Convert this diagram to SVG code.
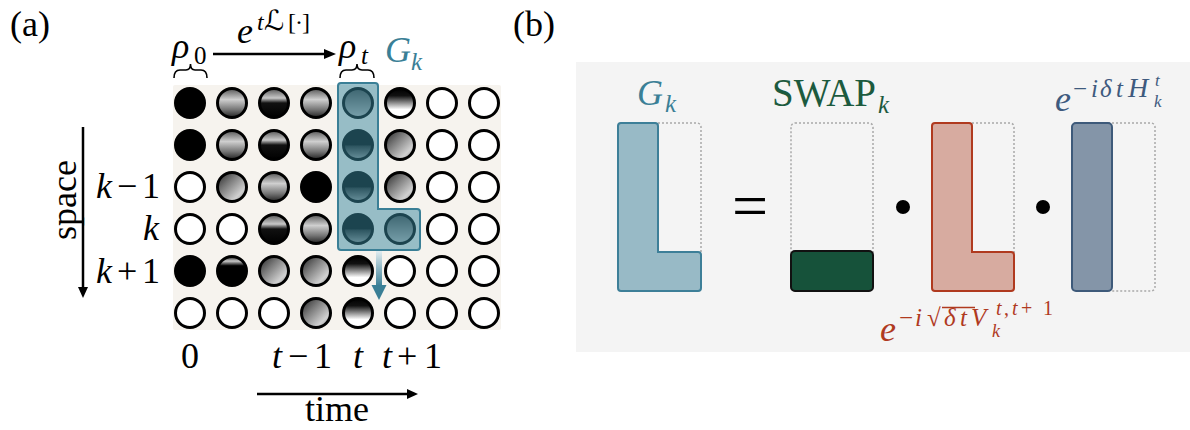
<svg xmlns="http://www.w3.org/2000/svg" width="1190" height="430" viewBox="0 0 1190 430">
<style>
.t{font-family:"Liberation Serif","DejaVu Serif",serif;fill:#000}
.i{font-style:italic}
.c{stroke:#000;stroke-width:3}
.dot{fill:none;stroke:#a8a8a8;stroke-width:1.5;stroke-dasharray:2 2}
.teal{fill:#3a7f96}
.green{fill:#1c5a3e}
.red{fill:#b03a1f}
.navy{fill:#3e5a7e}
</style>
<defs>
<linearGradient id="gA" x1="0" y1="0" x2="0" y2="1"><stop offset="0" stop-color="#555"/><stop offset="0.38" stop-color="#cfcfcf"/><stop offset="0.72" stop-color="#777"/><stop offset="1" stop-color="#222"/></linearGradient>
<linearGradient id="gB" x1="0" y1="0" x2="0" y2="1"><stop offset="0" stop-color="#555"/><stop offset="0.33" stop-color="#c8c8c8"/><stop offset="0.5" stop-color="#111"/><stop offset="1" stop-color="#000"/></linearGradient>
<linearGradient id="gK" x1="0" y1="0" x2="0" y2="1"><stop offset="0" stop-color="#222"/><stop offset="0.16" stop-color="#c8c8c8"/><stop offset="0.32" stop-color="#000"/><stop offset="1" stop-color="#000"/></linearGradient>
<linearGradient id="gD" x1="0" y1="0" x2="0" y2="1"><stop offset="0" stop-color="#000"/><stop offset="0.25" stop-color="#111"/><stop offset="0.72" stop-color="#fff"/><stop offset="1" stop-color="#fff"/></linearGradient>
<linearGradient id="gC" x1="0" y1="0" x2="1" y2="1"><stop offset="0" stop-color="#222"/><stop offset="0.35" stop-color="#777"/><stop offset="0.75" stop-color="#d0d0d0"/><stop offset="1" stop-color="#888"/></linearGradient>
<linearGradient id="gE" x1="0" y1="0" x2="0" y2="1"><stop offset="0" stop-color="#000"/><stop offset="0.5" stop-color="#000"/><stop offset="0.53" stop-color="#222"/><stop offset="1" stop-color="#9a9a9a"/></linearGradient>
<linearGradient id="gF" x1="0" y1="0" x2="0" y2="1"><stop offset="0" stop-color="#444"/><stop offset="1" stop-color="#b8b8b8"/></linearGradient>
<linearGradient id="gArr" x1="0" y1="0" x2="0" y2="1"><stop offset="0" stop-color="#e2edf1"/><stop offset="1" stop-color="#3a7f96"/></linearGradient>
</defs>

<!-- panel labels -->
<text class="t" x="10" y="36" font-size="36">(a)</text>
<text class="t" x="513" y="36" font-size="36">(b)</text>

<!-- panel a background -->
<rect x="173" y="85" width="328" height="245" rx="2" fill="#f6f3ee"/>

<g id="grid">
<circle class="c" cx="190" cy="103" r="14.5" fill="#000"/>
<circle class="c" cx="232" cy="103" r="14.5" fill="url(#gA)"/>
<circle class="c" cx="274" cy="103" r="14.5" fill="url(#gB)"/>
<circle class="c" cx="316" cy="103" r="14.5" fill="url(#gA)"/>
<circle class="c" cx="358" cy="103" r="14.5" fill="url(#gF)"/>
<circle class="c" cx="400" cy="103" r="14.5" fill="url(#gD)"/>
<circle class="c" cx="442" cy="103" r="14.5" fill="#fff"/>
<circle class="c" cx="484" cy="103" r="14.5" fill="#fff"/>
<circle class="c" cx="190" cy="145" r="14.5" fill="#000"/>
<circle class="c" cx="232" cy="145" r="14.5" fill="url(#gA)"/>
<circle class="c" cx="274" cy="145" r="14.5" fill="url(#gB)"/>
<circle class="c" cx="316" cy="145" r="14.5" fill="url(#gA)"/>
<circle class="c" cx="358" cy="145" r="14.5" fill="url(#gE)"/>
<circle class="c" cx="400" cy="145" r="14.5" fill="url(#gC)"/>
<circle class="c" cx="442" cy="145" r="14.5" fill="#fff"/>
<circle class="c" cx="484" cy="145" r="14.5" fill="#fff"/>
<circle class="c" cx="190" cy="187" r="14.5" fill="#fff"/>
<circle class="c" cx="232" cy="187" r="14.5" fill="url(#gC)"/>
<circle class="c" cx="274" cy="187" r="14.5" fill="url(#gA)"/>
<circle class="c" cx="316" cy="187" r="14.5" fill="#000"/>
<circle class="c" cx="358" cy="187" r="14.5" fill="url(#gE)"/>
<circle class="c" cx="400" cy="187" r="14.5" fill="url(#gC)"/>
<circle class="c" cx="442" cy="187" r="14.5" fill="#fff"/>
<circle class="c" cx="484" cy="187" r="14.5" fill="#fff"/>
<circle class="c" cx="190" cy="229" r="14.5" fill="#fff"/>
<circle class="c" cx="232" cy="229" r="14.5" fill="#fff"/>
<circle class="c" cx="274" cy="229" r="14.5" fill="url(#gB)"/>
<circle class="c" cx="316" cy="229" r="14.5" fill="url(#gA)"/>
<circle class="c" cx="358" cy="229" r="14.5" fill="url(#gE)"/>
<circle class="c" cx="400" cy="229" r="14.5" fill="url(#gF)"/>
<circle class="c" cx="442" cy="229" r="14.5" fill="#fff"/>
<circle class="c" cx="484" cy="229" r="14.5" fill="#fff"/>
<circle class="c" cx="190" cy="271" r="14.5" fill="#000"/>
<circle class="c" cx="232" cy="271" r="14.5" fill="url(#gK)"/>
<circle class="c" cx="274" cy="271" r="14.5" fill="url(#gC)"/>
<circle class="c" cx="316" cy="271" r="14.5" fill="url(#gC)"/>
<circle class="c" cx="358" cy="271" r="14.5" fill="url(#gD)"/>
<circle class="c" cx="400" cy="271" r="14.5" fill="#fff"/>
<circle class="c" cx="442" cy="271" r="14.5" fill="#fff"/>
<circle class="c" cx="484" cy="271" r="14.5" fill="#fff"/>
<circle class="c" cx="190" cy="313" r="14.5" fill="#fff"/>
<circle class="c" cx="232" cy="313" r="14.5" fill="#fff"/>
<circle class="c" cx="274" cy="313" r="14.5" fill="#fff"/>
<circle class="c" cx="316" cy="313" r="14.5" fill="url(#gC)"/>
<circle class="c" cx="358" cy="313" r="14.5" fill="url(#gD)"/>
<circle class="c" cx="400" cy="313" r="14.5" fill="#fff"/>
<circle class="c" cx="442" cy="313" r="14.5" fill="#fff"/>
<circle class="c" cx="484" cy="313" r="14.5" fill="#fff"/>
</g>

<g id="gate-highlight">
<path d="M341,83 H375 Q378,83 378,86 V209 H417 Q420,209 420,212 V247 Q420,250 417,250 H341 Q338,250 338,247 V86 Q338,83 341,83 Z" fill="#37879d" fill-opacity="0.5" stroke="#3a7f96" stroke-width="2"/>
<rect x="376" y="251" width="6" height="35" fill="url(#gArr)"/>
<polygon points="371.5,285 386.5,285 379,300" fill="#3a7f96"/>
</g>

<g id="connectors">
<line x1="213" y1="54" x2="326" y2="54" stroke="#000" stroke-width="2.5"/>
<polygon points="324,49 336,54 324,59" fill="#000"/>
<line x1="83" y1="127" x2="83" y2="288" stroke="#000" stroke-width="2.5"/>
<polygon points="78,287 88,287 83,298" fill="#000"/>
<line x1="257" y1="394" x2="409" y2="394" stroke="#000" stroke-width="2.5"/>
<polygon points="407,389 418,394 407,399" fill="#000"/>
</g>

<g id="labels-a">
<text class="t i" x="237" y="43" font-size="36">e</text>
<text class="t" y="30" font-size="24"><tspan class="i" x="257">t</tspan><tspan x="264" font-size="28" font-family="DejaVu Sans,sans-serif">ℒ</tspan><tspan x="288 295 302">[·]</tspan></text>
<text class="t i" x="172" y="58" font-size="36">ρ</text>
<text class="t" x="194" y="64" font-size="25">0</text>
<path d="M174,78 Q174,70 180,70 L186,70 Q190.5,70 190.5,64 Q190.5,70 195,70 L201,70 Q207,70 207,78" fill="none" stroke="#000" stroke-width="1.6"/>
<text class="t i" x="339" y="58" font-size="36">ρ</text>
<text class="t i" x="361" y="64" font-size="25">t</text>
<path d="M340,78 Q340,70 346,70 L352,70 Q357,70 357,64 Q357,70 362,70 L368,70 Q374,70 374,78" fill="none" stroke="#000" stroke-width="1.6"/>
<text class="t i teal" x="385" y="62" font-size="36">G</text>
<text class="t i teal" x="411" y="70" font-size="25">k</text>
<text class="t" transform="translate(76,200) rotate(-90)" text-anchor="middle" font-size="36">space</text>
<text class="t" y="198" font-size="36"><tspan class="i" x="96">k</tspan><tspan x="117 142">−1</tspan></text>
<text class="t i" x="143" y="240" font-size="36">k</text>
<text class="t" y="283" font-size="36"><tspan class="i" x="96">k</tspan><tspan x="117 142">+1</tspan></text>
<text class="t" x="190" y="368" font-size="36" text-anchor="middle">0</text>
<text class="t" y="368" font-size="36"><tspan class="i" x="272">t</tspan><tspan x="288 314">−1</tspan></text>
<text class="t i" x="358" y="368" font-size="36" text-anchor="middle">t</text>
<text class="t" y="368" font-size="36"><tspan class="i" x="382">t</tspan><tspan x="397 424">+1</tspan></text>
<text class="t" x="337" y="421" font-size="36" text-anchor="middle">time</text>
</g>

<!-- panel b background -->
<rect x="576" y="62" width="614" height="290" fill="#f4f4f4"/>

<g id="Gk">
<rect class="dot" x="618" y="123" width="83" height="168" rx="4"/>
<path d="M621,123 H655 Q658,123 658,126 V252 H698 Q701,252 701,255 V288 Q701,291 698,291 H621 Q618,291 618,288 V126 Q618,123 621,123 Z" fill="#98bac6" stroke="#3d7f98" stroke-width="2"/>
<text class="t i teal" x="637" y="105" font-size="36">G</text>
<text class="t i teal" x="665" y="112" font-size="25">k</text>
</g>

<text class="t" x="750" y="227" font-size="64" text-anchor="middle">=</text>

<g id="SWAPk">
<rect class="dot" x="791" y="123" width="82" height="168" rx="4"/>
<rect x="791" y="251" width="82" height="40" rx="4" fill="#16523a" stroke="#111" stroke-width="2"/>
<text class="t green" x="772" y="106" font-size="39">SWAP</text>
<text class="t i green" x="878" y="113" font-size="25">k</text>
</g>

<circle cx="903" cy="207" r="7" fill="#000"/>

<g id="Vk">
<rect class="dot" x="932" y="123" width="82" height="168" rx="4"/>
<path d="M935,123 H969 Q972,123 972,126 V252 H1011 Q1014,252 1014,255 V288 Q1014,291 1011,291 H935 Q932,291 932,288 V126 Q932,123 935,123 Z" fill="#d7aba0" stroke="#b03a1f" stroke-width="2"/>
<text class="t i red" x="880" y="341" font-size="36">e</text>
<text class="t red" y="326" font-size="25"><tspan x="899">−</tspan><tspan class="i" x="915">i</tspan><tspan x="927">√</tspan><tspan class="i" x="944 960">δt</tspan><tspan class="i" x="971">V</tspan></text>
<line x1="942" y1="307.5" x2="975" y2="307.5" stroke="#b03a1f" stroke-width="1.3"/>
<text class="t i red" x="992" y="337" font-size="18">k</text>
<text class="t red" y="315" font-size="20"><tspan class="i" x="996">t</tspan><tspan x="1004">,</tspan><tspan class="i" x="1012">t</tspan><tspan x="1021 1043">+1</tspan></text>
</g>

<circle cx="1043" cy="207" r="7" fill="#000"/>

<g id="Hk">
<rect class="dot" x="1072" y="123" width="83" height="168" rx="4"/>
<rect x="1072" y="123" width="40" height="168" rx="4" fill="#8495a8" stroke="#3e5a7a" stroke-width="2"/>
<text class="t i navy" x="1055" y="111" font-size="36">e</text>
<text class="t navy" y="97" font-size="25"><tspan x="1073">−</tspan><tspan class="i" x="1091 1100 1116">iδt</tspan><tspan class="i" x="1128" font-size="28">H</tspan></text>
<text class="t i navy" x="1155" y="86" font-size="17">t</text>
<text class="t i navy" x="1154" y="107" font-size="17">k</text>
</g>
</svg>
